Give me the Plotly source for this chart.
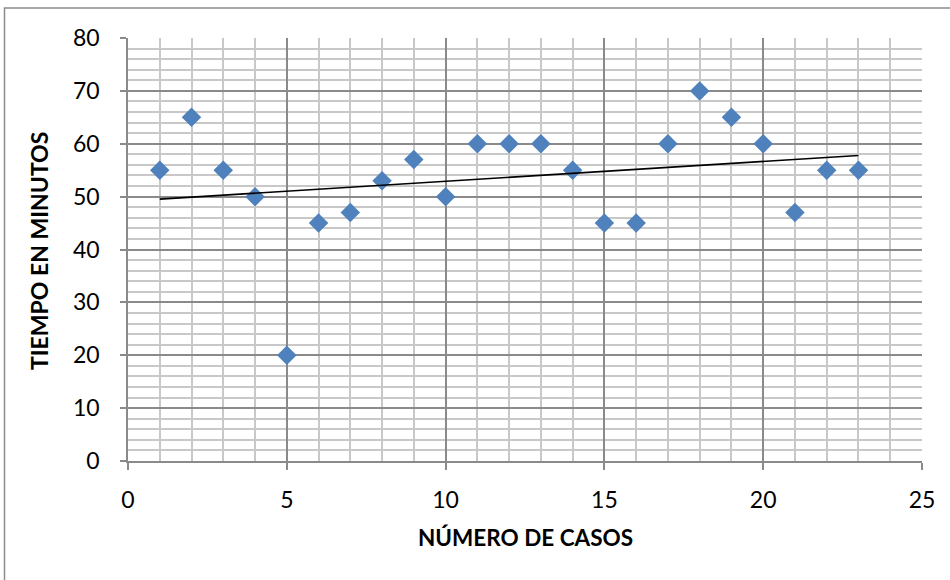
import numpy as np
import plotly.graph_objects as go

# Caso número y tiempo registrado (minutos)
casos = [1, 2, 3, 4, 5, 6, 7, 8, 9, 10, 11, 12, 13, 14, 15, 16, 17, 18, 19, 20, 21, 22, 23]
tiempos = [55, 65, 55, 50, 20, 45, 47, 53, 57, 50, 60, 60, 60, 55, 45, 45, 60, 70, 65, 60, 47, 55, 55]

x_ticks = [0, 5, 10, 15, 20, 25]
y_ticks = [0, 10, 20, 30, 40, 50, 60, 70, 80]

# Linear trend line fitted to the data
pendiente, intercepto = np.polyfit(casos, tiempos, 1)
trend_x = [min(casos), max(casos)]
trend_y = [pendiente * v + intercepto for v in trend_x]

MARKER_BLUE = "#4F81BD"
MAJOR_GRID = "#8A8A8A"
MINOR_GRID = "#C8C8C8"
FONT = "Lato"

fig = go.Figure()
fig.add_trace(go.Scatter(
    x=casos, y=tiempos, mode="markers",
    marker=dict(symbol="diamond", size=15, color=MARKER_BLUE, line=dict(width=0)),
    showlegend=False, hoverinfo="x+y",
))
fig.add_trace(go.Scatter(
    x=trend_x, y=trend_y, mode="lines",
    line=dict(color="black", width=1.6),
    showlegend=False, hoverinfo="skip",
))

fig.update_layout(
    width=950, height=580,
    margin=dict(l=128, r=28, t=38, b=119),
    paper_bgcolor="white", plot_bgcolor="white",
    font=dict(family=FONT, size=23, color="black"),
    xaxis=dict(
        range=[0, 25], tickvals=x_ticks, ticktext=[str(v) for v in x_ticks],
        showgrid=True, gridcolor=MAJOR_GRID, gridwidth=1.6,
        minor=dict(dtick=1, showgrid=True, gridcolor=MINOR_GRID, gridwidth=1.6),
        showline=True, linecolor=MAJOR_GRID, linewidth=1.6,
        ticks="outside", ticklen=7, tickcolor=MAJOR_GRID, tickwidth=1.6,
        ticklabelstandoff=11, zeroline=False, fixedrange=True,
    ),
    yaxis=dict(
        range=[0, 80], tickvals=y_ticks, ticktext=[str(v) for v in y_ticks],
        showgrid=True, gridcolor=MAJOR_GRID, gridwidth=1.6,
        minor=dict(dtick=2, showgrid=True, gridcolor=MINOR_GRID, gridwidth=1.6),
        showline=True, linecolor=MAJOR_GRID, linewidth=1.6,
        ticks="outside", ticklen=6, tickcolor=MAJOR_GRID, tickwidth=1.6,
        ticklabelstandoff=16, zeroline=False, fixedrange=True,
    ),
    annotations=[
        dict(text="<b>NÚMERO DE CASOS</b>", xref="paper", yref="paper",
             x=0.5, y=(461 - 537) / 423, xanchor="center", yanchor="middle",
             showarrow=False, font=dict(family=FONT, size=22.5, color="black")),
        dict(text="<b>TIEMPO EN MINUTOS</b>", xref="paper", yref="paper",
             x=(39 - 128) / 794, y=(461 - 251) / 423, xanchor="center", yanchor="middle",
             textangle=-90, showarrow=False,
             font=dict(family=FONT, size=23, color="black")),
    ],
    shapes=[
        # chart frame
        dict(type="rect", xref="paper", yref="paper",
             x0=(4.5 - 128) / 794, x1=(960 - 128) / 794,
             y0=(461 - 590) / 423, y1=(461 - 8) / 423,
             line=dict(color="#8C8C8C", width=1.5), fillcolor="rgba(0,0,0,0)",
             layer="below"),
    ],
)

fig.write_html("out.html")
